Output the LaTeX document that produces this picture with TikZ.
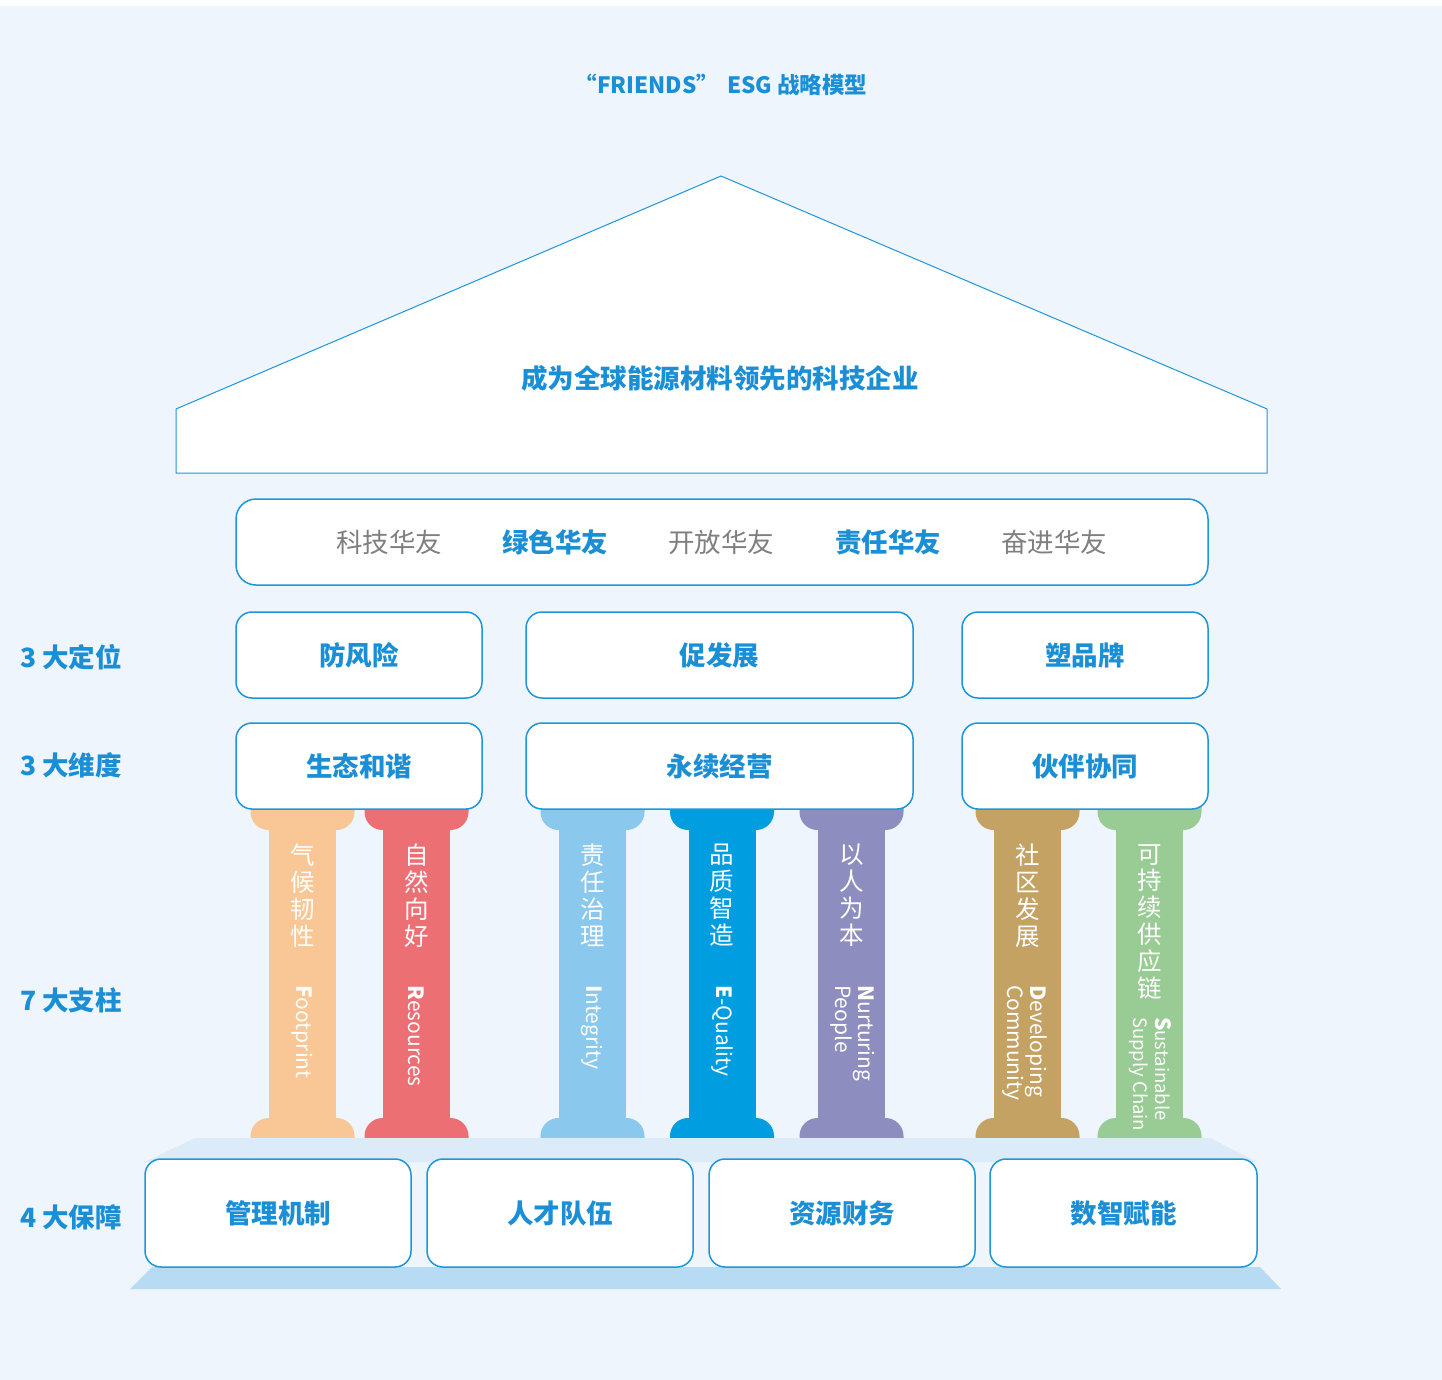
\documentclass[tikz,border=0pt]{standalone}
\usepackage{fontspec}
\setmainfont{Noto Sans CJK SC}

\definecolor{bgblue}{HTML}{EEF5FC}
\definecolor{lineblue}{HTML}{1E96DC}
\definecolor{headblue}{HTML}{1A8FD6}
\definecolor{softgray}{HTML}{7F7F7F}
\definecolor{topface}{HTML}{DCEBF8}
\definecolor{lowface}{HTML}{B8DBF4}
\definecolor{colF}{HTML}{F9C795}
\definecolor{colR}{HTML}{EC6F74}
\definecolor{colI}{HTML}{8BC8EE}
\definecolor{colE}{HTML}{009EE0}
\definecolor{colN}{HTML}{8E8DBF}
\definecolor{colD}{HTML}{C4A264}
\definecolor{colS}{HTML}{99CB94}

\tikzset{
  frame/.style={draw=lineblue,line width=1.5pt,fill=white,rounded corners=16pt,inner sep=0pt},
  headtext/.style={text=headblue,inner sep=0pt,font=\bfseries\fontsize{26.5}{30}\selectfont},
  graytext/.style={text=softgray,inner sep=0pt,font=\fontsize{26.5}{30}\selectfont},
  sidetext/.style={headtext,anchor=west},
  pillarcn/.style={text=white,inner sep=0pt,anchor=north,align=center,font=\fontsize{24.5}{26.8}\selectfont},
  pillaren/.style={text=white,inner sep=0pt,anchor=west,rotate=-90,align=left,font=\fontsize{21}{23}\selectfont}
}

% one column: centre x, colour
\newcommand{\drawpillar}[2]{%
  \fill[#2] ({#1-33.5},820) rectangle ({#1+33.5},1130);
  \fill[#2] ({#1-52},806) [rounded corners=18pt] -- ({#1-52},830) -- ({#1+52},830) [sharp corners] -- ({#1+52},806) -- cycle;
  \fill[#2] ({#1-52},1142) [rounded corners=18pt] -- ({#1-52},1118) -- ({#1+52},1118) [sharp corners] -- ({#1+52},1142) -- cycle;
}

\begin{document}
\begin{tikzpicture}[x=1pt,y=-1pt]
\useasboundingbox (0,0) rectangle (1442,1380);
\fill[white] (0,0) rectangle (1442,1380);
\fill[bgblue] (0,6) rectangle (1442,1380);

%title
\node[headtext,font=\bfseries\fontsize{22.5}{26}\selectfont] (title) at (721,85) {“FRIENDS”\hspace{8pt}ESG 战略模型};

%roof
\draw[lineblue,line width=1pt,fill=white] (176,473) -- (176,409) -- (721,176) -- (1267,409) -- (1267,473) -- cycle;
\node[headtext] (mission) at (720,378) {成为全球能源材料领先的科技企业};

%values
\node[frame,rounded corners=20pt,minimum width=972pt,minimum height=86pt] (values) at (722,542) {};
\node[graytext] (v1) at (389,542) {科技华友};
\node[headtext] (v2) at (555,542) {绿色华友};
\node[graytext] (v3) at (721,542) {开放华友};
\node[headtext] (v4) at (888,542) {责任华友};
\node[graytext] (v5) at (1054,542) {奋进华友};

%side labels
\node[sidetext] (lab3a) at (20,657) {3 大定位};
\node[sidetext] (lab3b) at (20,765) {3 大维度};
\node[sidetext] (lab7) at (20,1000) {7 大支柱};
\node[sidetext] (lab4) at (20,1217) {4 大保障};

%columns
\drawpillar{302.5}{colF}
\drawpillar{416.5}{colR}
\drawpillar{592.5}{colI}
\drawpillar{722}{colE}
\drawpillar{851.5}{colN}
\drawpillar{1027.5}{colD}
\drawpillar{1149.5}{colS}

\node[pillarcn] (p1cn) at (302.5,844) {气\\候\\韧\\性};
\node[pillarcn] (p2cn) at (416.5,844) {自\\然\\向\\好};
\node[pillarcn] (p3cn) at (592.5,844) {责\\任\\治\\理};
\node[pillarcn] (p4cn) at (722,844) {品\\质\\智\\造};
\node[pillarcn] (p5cn) at (851.5,844) {以\\人\\为\\本};
\node[pillarcn] (p6cn) at (1027.5,844) {社\\区\\发\\展};
\node[pillarcn] (p7cn) at (1149.5,844) {可\\持\\续\\供\\应\\链};

\node[pillaren] (p1en) at (302.5,985) {{\bfseries F}ootprint};
\node[pillaren] (p2en) at (416.5,985) {{\bfseries R}esources};
\node[pillaren] (p3en) at (592.5,985) {{\bfseries I}ntegrity};
\node[pillaren] (p4en) at (722,985) {{\bfseries E}-Quality};
\node[pillaren] (p5en) at (853,985) {{\bfseries N}urturing\\People};
\node[pillaren] (p6en) at (1025,985) {{\bfseries D}eveloping\\Community};
\node[pillaren,font=\fontsize{18.5}{22}\selectfont] (p7en) at (1150,1017) {{\bfseries\fontsize{21}{22}\selectfont S}ustainable\\Supply Chain};

%positions
\node[frame,minimum width=246pt,minimum height=86pt] (pos1) at (359,655) {};
\node[frame,minimum width=387pt,minimum height=86pt] (pos2) at (719.5,655) {};
\node[frame,minimum width=246pt,minimum height=86pt] (pos3) at (1085,655) {};
\node[headtext] at (pos1) {防风险};
\node[headtext] at (pos2) {促发展};
\node[headtext] at (pos3) {塑品牌};

%dimensions
\node[frame,minimum width=246pt,minimum height=86pt] (dim1) at (359,766) {};
\node[frame,minimum width=387pt,minimum height=86pt] (dim2) at (719.5,766) {};
\node[frame,minimum width=246pt,minimum height=86pt] (dim3) at (1085,766) {};
\node[headtext] at (dim1) {生态和谐};
\node[headtext] at (dim2) {永续经营};
\node[headtext] at (dim3) {伙伴协同};

%base
\fill[topface] (195,1138) -- (1210,1138) -- (1257,1162) -- (145,1162) -- cycle;
\fill[lowface] (152,1267) -- (1260,1267) -- (1281,1289) -- (130,1289) -- cycle;

\node[frame,minimum width=266pt,minimum height=108pt] (base1) at (278,1213) {};
\node[frame,minimum width=266pt,minimum height=108pt] (base2) at (560,1213) {};
\node[frame,minimum width=266pt,minimum height=108pt] (base3) at (842,1213) {};
\node[frame,minimum width=267pt,minimum height=108pt] (base4) at (1123.5,1213) {};
\node[headtext] at (base1) {管理机制};
\node[headtext] at (base2) {人才队伍};
\node[headtext] at (base3) {资源财务};
\node[headtext] at (base4) {数智赋能};
\end{tikzpicture}
\end{document}
